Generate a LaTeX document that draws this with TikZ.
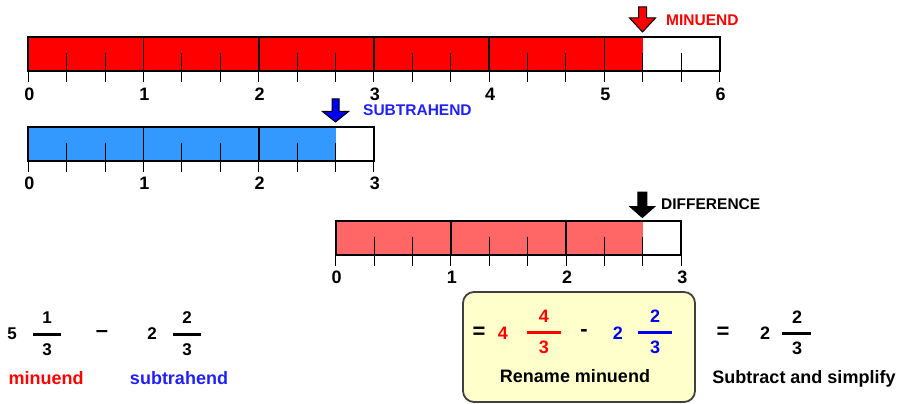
\documentclass[tikz,border=0pt]{standalone}
\usepackage{fontspec}
\setmainfont{Liberation Sans}
\definecolor{barred}{HTML}{FF0000}
\definecolor{barblue}{HTML}{3399FF}
\definecolor{barpink}{HTML}{FF6666}
\definecolor{arrblue}{HTML}{0000F0}
\definecolor{txtblue}{HTML}{2020FF}
\definecolor{boxfill}{HTML}{FFFFCC}
\tikzset{
  lbl/.style={inner sep=0pt, font=\bfseries\fontsize{15.5}{18}\selectfont},
  axisnum/.style={inner sep=0pt, font=\bfseries\fontsize{18}{21}\selectfont},
  fracnum/.style={inner sep=0pt, font=\bfseries\fontsize{17}{20}\selectfont},
  boxnum/.style={inner sep=0pt, font=\bfseries\fontsize{18}{21}\selectfont},
  eqsign/.style={inner sep=0pt, font=\bfseries\fontsize{22}{24}\selectfont},
  body/.style={inner sep=0pt, font=\bfseries\fontsize{18}{21}\selectfont},
  outline/.style={line width=2pt},
  divider/.style={line width=1.6pt},
  tick/.style={line width=1pt},
  fracbar/.style={line width=3pt},
  blockarrow/.style={draw=black, line width=1pt, line join=miter},
}
% \numbar{left x}{top y}{units}{fill colour}{filled units}{name}
\newcommand\numbar[6]{%
  \pgfmathsetmacro\nbbot{#2+34}
  \pgfmathsetmacro\nbright{#1+#3*115.2}
  \pgfmathsetmacro\nbfill{#1+#5*115.2}
  \fill[#4] (#1,#2) rectangle (\nbfill,\nbbot);
  \draw[outline] (#1,#2) rectangle (\nbright,\nbbot);
  \pgfmathtruncatemacro\nbthirds{3*#3}
  \foreach \k in {0,...,\nbthirds} {
    \pgfmathsetmacro\xx{#1+\k*115.2/3}
    \draw[tick] (\xx,\nbbot) -- (\xx,\nbbot+11);
    \pgfmathtruncatemacro\mm{mod(\k,3)}
    \ifnum\mm=0\relax
      \pgfmathtruncatemacro\uu{\k/3}
      \node[axisnum] (#6-\uu) at (\xx+1,\nbbot+23) {\uu};
    \else
      \draw[tick] (\xx,#2+16) -- (\xx,\nbbot);
    \fi
  }
  \foreach \u in {1,...,#3} {
    \ifnum\u<#3\relax
      \pgfmathsetmacro\xx{#1+\u*115.2}
      \draw[divider] (\xx,#2) -- (\xx,\nbbot);
    \fi
  }
}
% \blockdown{x}{top}{head base}{tip}{half shaft}{half head}{colour}
\newcommand\blockdown[7]{%
  \draw[blockarrow, fill=#7] (#1-#5,#2) -- (#1+#5,#2) -- (#1+#5,#3) -- (#1+#6,#3)
    -- (#1,#4) -- (#1-#6,#3) -- (#1-#5,#3) -- cycle;
}
\begin{document}
\begin{tikzpicture}[x=1pt,y=-1pt]
\useasboundingbox (0,0) rectangle (903,404);

% minuend bar
\numbar{28.3}{37.3}{6}{barred}{5.3333}{m}
\blockdown{642.5}{7}{18}{32}{4}{13}{barred}
\node[lbl, text=barred, anchor=west] (minlbl) at (666,20) {MINUEND};

% subtrahend bar
\numbar{28.3}{126.7}{3}{barblue}{2.6667}{s}
\blockdown{335.5}{99}{111.5}{122}{3.5}{13}{arrblue}
\node[lbl, text=txtblue, anchor=west] (sublbl) at (363,110) {SUBTRAHEND};

% difference bar
\numbar{335.7}{220.7}{3}{barpink}{2.6667}{d}
\blockdown{642.3}{192}{206.5}{217.5}{4.5}{12.5}{black}
\node[lbl, anchor=west] (difflbl) at (661,204) {DIFFERENCE};

% left expression
\node[fracnum] (five) at (12,334) {5};
\node[fracnum] (n1) at (47,318) {1};
\node[fracnum] (d1) at (47,350) {3};
\draw[fracbar] (33,334) -- (61,334);
\node[eqsign] (minus) at (102,334) {–};
\node[fracnum] (two) at (152,334) {2};
\node[fracnum] (n2) at (187,318) {2};
\node[fracnum] (d2) at (187,350) {3};
\draw[fracbar] (173,334) -- (201,334);
\node[body, text=barred] (minword) at (46,378) {minuend};
\node[body, text=txtblue] (subword) at (179,378) {subtrahend};

% rename box
\draw[rounded corners=11pt, fill=boxfill, draw=black!75, line width=1.8pt] (463,292) rectangle (695,402);
\node[eqsign] (eq1) at (479,333) {=};
\node[boxnum, text=barred] (four) at (503,333) {4};
\node[boxnum, text=barred] (n3) at (544,316) {4};
\node[boxnum, text=barred] (d3) at (544,347) {3};
\draw[fracbar, barred] (527,332) -- (561,332);
\node[eqsign] (hyph) at (584,333) {-};
\node[boxnum, text=arrblue] (twob) at (618,333) {2};
\node[boxnum, text=arrblue] (n4) at (655,316) {2};
\node[boxnum, text=arrblue] (d4) at (655,347) {3};
\draw[fracbar, arrblue] (638,332) -- (672,332);
\node[body] (rename) at (575,376) {Rename minuend};

% result
\node[eqsign] (eq2) at (723,333) {=};
\node[boxnum] (twoc) at (765,333) {2};
\node[boxnum] (n5) at (797,317) {2};
\node[boxnum] (d5) at (797,348) {3};
\draw[fracbar] (782,333) -- (811,333);
\node[body] (simp) at (804,379) {Subtract and simplify};
\end{tikzpicture}
\end{document}
